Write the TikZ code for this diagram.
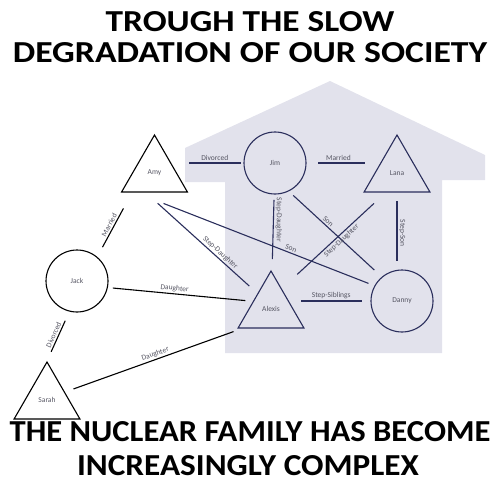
\documentclass[tikz,border=0pt]{standalone}
\usepackage{fontspec}
\setmainfont{Carlito}
\usepackage{tikz}
\usetikzlibrary{shapes.geometric,calc}
\definecolor{housefill}{RGB}{226,226,236}
\definecolor{navy}{RGB}{42,46,92}
\definecolor{labelgray}{RGB}{85,85,98}
\tikzset{
  person/.style={draw,line width=1.1pt,inner sep=0pt,text=labelgray,font=\fontsize{7.5}{9}\selectfont},
  male/.style={person,circle,minimum size=62pt},
  female/.style={person,regular polygon,regular polygon sides=3,minimum size=76pt},
  link/.style={line width=1.1pt},
  rel/.style={text=labelgray,inner sep=1.5pt,font=\fontsize{7.5}{9}\selectfont},
  headline/.style={anchor=base,inner sep=0pt,font=\fontsize{30.5}{36}\selectfont\bfseries\addfontfeatures{FakeStretch=#1}}
}
\begin{document}
\begin{tikzpicture}[x=1pt,y=-1pt]
\useasboundingbox (0,0) rectangle (500,500);
% house
\fill[housefill] (185,148) -- (330,81) -- (485,155) -- (485,180) -- (442,180) -- (442,353)
  -- (225,353) -- (225,182) -- (185,182) -- cycle;

\node[headline=1.16] (title1) at (250,32) {TROUGH THE SLOW};
\node[headline=1.17] (title2) at (250,63) {DEGRADATION OF OUR SOCIETY};
\node[headline=1.07] (foot1) at (250,441.5) {THE NUCLEAR FAMILY HAS BECOME};
\node[headline=1.09] (foot2) at (248,475) {INCREASINGLY COMPLEX};

\node[female,draw=black] (amy) at (154.5,173) {Amy};
\node[male,draw=navy] (jim) at (275,163) {Jim};
\node[female,draw=navy] (lana) at (397,173) {Lana};
\node[male,draw=black] (jack) at (77,281) {Jack};
\node[female,draw=black] (sarah) at (47,400) {Sarah};
\node[female,draw=navy] (alexis) at (271,309) {Alexis};
\node[male,draw=navy] (danny) at (402,301) {Danny};

% inside the house
\draw[link,navy,shorten <=34.5pt,shorten >=34pt] (jim -| amy) -- (jim.center) node[rel,pos=.5,above] {Divorced};
\draw[link,navy,shorten <=43pt,shorten >=32pt] (jim.center) -- (jim -| lana) node[rel,pos=.52,above] {Married};
\draw[link,navy,shorten <=37pt,shorten >=50pt] (jim.center) -- (alexis.center) node[rel,pos=.39,rotate=-90,above] {Step-Daughter};
\draw[link,navy,shorten <=28pt,shorten >=40pt] (lana.center) -- (lana |- danny) node[rel,pos=.47,rotate=-90,above] {Step-Son};
\draw[link,navy,shorten <=6pt,shorten >=10pt] (jim.-64) -- (danny.130) node[rel,pos=.39,sloped,above] {Son};
\draw[link,navy,shorten <=16pt,shorten >=21pt] (lana.-120) -- (alexis.62) node[rel,pos=.46,sloped,below] {Step-Daughter};
\draw[link,navy,shorten <=30pt,shorten >=40pt] (danny -| alexis) -- (danny.center) node[rel,pos=.46,above] {Step-Siblings};
\draw[link,navy,shorten <=30pt,shorten >=6.4pt] (amy.-134) -- (danny.151) node[rel,pos=.644,sloped,above] {Son};
\draw[link,navy,shorten <=16pt,shorten >=11pt] (amy.-114) -- (alexis.131) node[rel,pos=.635,sloped,above] {Step-Daughter};

% outside
\draw[link,shorten <=11pt,shorten >=18pt] (jack.50) -- (amy.-139) node[rel,pos=.46,sloped,above] {Married};
\draw[link,shorten <=5pt,shorten >=7.5pt] (jack.-12) -- (alexis.157) node[rel,pos=.457,sloped,above] {Daughter};
\draw[link,shorten <=10pt,shorten >=10pt] (jack.-104) -- (sarah.north) node[rel,pos=.51,sloped,above] {Divorced};
\draw[link,shorten <=9pt,shorten >=9pt] (sarah.24) -- (alexis.-146) node[rel,pos=.52,sloped,above] {Daughter};
\end{tikzpicture}
\end{document}
